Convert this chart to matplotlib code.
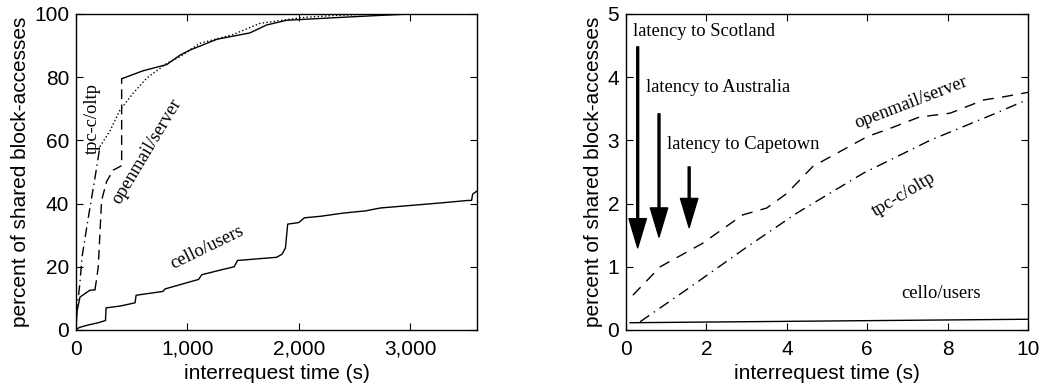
import matplotlib
matplotlib.use('Agg')
import matplotlib.pyplot as plt

# ---- left panel: CDF over interrequest time (s) ----
cello_x = [0, 30, 100, 200, 265, 270, 400, 530, 540, 780, 800, 1000, 1100, 1130, 1300,
           1420, 1450, 1800, 1850, 1880, 1900, 2000, 2050, 2200, 2400, 2600, 2730,
           3000, 3270, 3520, 3550, 3560, 3600]
cello_y = [0, 0.8, 1.5, 2.3, 3.0, 7.0, 7.6, 8.6, 11.0, 12.2, 13.0, 15.0, 16.0, 17.5, 19.0,
           20.0, 22.0, 23.0, 24.0, 26.0, 33.5, 34.0, 35.5, 36.0, 37.0, 37.7, 38.6,
           39.4, 40.2, 41.0, 41.0, 43.0, 44.0]

# openmail/server is drawn in three pieces: dense start, sparse middle, dense tail
mail_x_start = [0, 10, 36, 80, 126, 170]
mail_y_start = [0, 6, 10.4, 11.5, 12.6, 12.7]
mail_x_mid = [170, 185, 200, 230, 275, 335, 410, 410]
mail_y_mid = [12.7, 16, 20, 41, 47, 50.6, 52, 79.5]
mail_x_high = [410, 600, 815, 935, 1025, 1265, 1560, 1710, 1890, 2310, 2700, 3000, 3600]
mail_y_high = [79.5, 82, 84, 87, 88.6, 92, 94, 96.5, 98, 98.8, 99.5, 100, 100]

tpc_x_low = [0, 20, 36, 54, 108, 170, 215]
tpc_y_low = [5, 10, 15, 23, 35, 48, 58]
tpc_x_high = [215, 305, 395, 515, 635, 815, 935, 1110, 1410, 1650, 2010, 2300, 2700, 3600]
tpc_y_high = [58, 63, 69.6, 75, 79.7, 84.4, 86.5, 90.7, 93.5, 97, 98.8, 99.5, 100, 100]

# ---- right panel: zoom on first 10 s ----
r_mail_x = [0.17, 0.85, 1.9, 2.9, 3.5, 4.0, 4.65, 5.4, 6.0, 6.57, 7.3, 8.06, 8.9, 9.4, 10.0]
r_mail_y = [0.55, 1.0, 1.37, 1.82, 1.93, 2.16, 2.59, 2.85, 3.06, 3.19, 3.37, 3.43, 3.64, 3.69, 3.76]
r_tpc_x = [0.35, 1.6, 3.0, 4.25, 5.9, 7.56, 9.2, 10.0]
r_tpc_y = [0.13, 0.68, 1.31, 1.85, 2.48, 3.0, 3.43, 3.65]
r_cello_x = [0.1, 10.0]
r_cello_y = [0.115, 0.17]

# latency arrows: label, x, shaft top, tip, label position
arrow_labels = ['latency to Scotland', 'latency to Australia', 'latency to Capetown']
arrow_x = [0.29, 0.82, 1.57]
arrow_top = [4.48, 3.42, 2.58]
arrow_tip = [1.30, 1.47, 1.62]
label_x = [0.17, 0.50, 1.02]
label_y = [4.72, 3.83, 2.94]

plt.rcParams['font.family'] = ['Liberation Sans', 'DejaVu Sans']
SERIF = 'Liberation Serif'
FS_SERIF = 13.3
FS_SANS = 15

fig = plt.figure(figsize=(10.42, 3.88), dpi=100)
ax1 = fig.add_axes([0.0729, 0.1495, 0.385, 0.8145])
ax2 = fig.add_axes([0.6008, 0.1495, 0.3858, 0.8145])

lw = 1.0
ax1.plot(cello_x, cello_y, color='black', lw=lw)
ax1.plot(mail_x_start, mail_y_start, color='black', lw=lw)
ax1.plot(mail_x_mid, mail_y_mid, color='black', lw=lw, dashes=(7, 4))
ax1.plot(mail_x_high, mail_y_high, color='black', lw=lw)
ax1.plot(tpc_x_low, tpc_y_low, color='black', lw=lw, dashes=(7, 3, 1, 3))
ax1.plot(tpc_x_high, tpc_y_high, color='black', lw=lw, linestyle=':')

ax1.text(148, 67, 'tpc-c/oltp', rotation=90, ha='center', va='center',
         family=SERIF, fontsize=FS_SERIF)
ax1.text(637, 56.6, 'openmail/server', rotation=59, ha='center', va='center',
         family=SERIF, fontsize=FS_SERIF)
ax1.text(1175, 26, 'cello/users', rotation=26, ha='center', va='center',
         family=SERIF, fontsize=FS_SERIF)

ax1.set_xlim(0, 3600)
ax1.set_ylim(0, 100)
ax1.set_xticks([0, 1000, 2000, 3000])
ax1.set_xticklabels(['0', '1,000', '2,000', '3,000'])
ax1.set_yticks([0, 20, 40, 60, 80, 100])

ax2.plot(r_cello_x, r_cello_y, color='black', lw=lw)
ax2.plot(r_mail_x, r_mail_y, color='black', lw=lw, dashes=(8, 6))
ax2.plot(r_tpc_x, r_tpc_y, color='black', lw=lw, dashes=(8, 4, 1, 4))

for lab, x, top, tip, lx, ly in zip(arrow_labels, arrow_x, arrow_top, arrow_tip,
                                    label_x, label_y):
    ax2.annotate('', xy=(x, tip), xytext=(x, top),
                 arrowprops=dict(facecolor='black', edgecolor='black', width=1.4,
                                 headwidth=12.5, headlength=21, shrink=0))
    ax2.text(lx, ly, lab, ha='left', va='center', family=SERIF, fontsize=FS_SERIF)

ax2.text(7.09, 3.59, 'openmail/server', rotation=21, ha='center', va='center',
         family=SERIF, fontsize=FS_SERIF)
ax2.text(6.9, 2.15, 'tpc-c/oltp', rotation=31, ha='center', va='center',
         family=SERIF, fontsize=FS_SERIF)
ax2.text(7.83, 0.58, 'cello/users', ha='center', va='center',
         family=SERIF, fontsize=FS_SERIF)

ax2.set_xlim(0, 10)
ax2.set_ylim(0, 5)
ax2.set_xticks([0, 2, 4, 6, 8, 10])
ax2.set_yticks([0, 1, 2, 3, 4, 5])

for ax in (ax1, ax2):
    ax.set_xlabel('interrequest time (s)', fontsize=FS_SANS, labelpad=4)
    ax.set_ylabel('percent of shared block-accesses', fontsize=FS_SANS, labelpad=3)
    ax.tick_params(direction='in', top=True, right=True, length=5, width=0.8,
                   labelsize=FS_SANS)
    ax.tick_params(axis='x', pad=7)
    ax.tick_params(axis='y', pad=5)
    for s in ax.spines.values():
        s.set_linewidth(1.0)

fig.savefig('out.png', dpi=100)
